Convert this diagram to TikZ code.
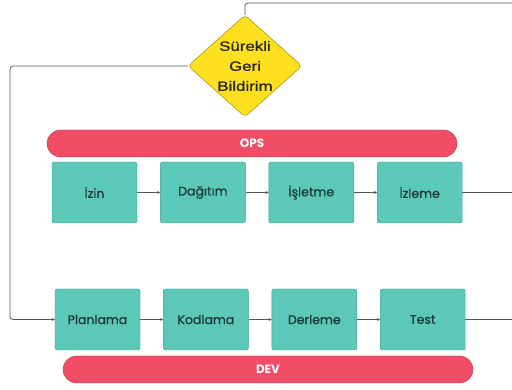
\documentclass[tikz,border=0pt]{standalone}
\usepackage{fontspec}
\setmainfont{Poppins}
\newfontfamily\stagefont[FakeBold=0.6]{Poppins}
\newfontfamily\diafont[FakeStretch=1.25,FakeBold=0.8]{Liberation Sans}
\usepackage{tikz}
\usetikzlibrary{arrows.meta}
\usetikzlibrary{positioning}
\usetikzlibrary{shapes.geometric}

\definecolor{tealbox}{HTML}{5BC8B8}
\definecolor{tealedge}{HTML}{3E9E90}
\definecolor{tealtext}{HTML}{1A3838}
\definecolor{barred}{HTML}{F24D66}
\definecolor{baredge}{HTML}{B8344A}
\definecolor{diayel}{HTML}{FFE01E}
\definecolor{diaedge}{HTML}{8C7A10}
\definecolor{wire}{HTML}{555555}

\begin{document}
\begin{tikzpicture}[
          x=1pt, y=1pt,
          >={Stealth[length=3pt,width=3pt]},
          every node/.style={font=\stagefont\fontsize{12.5}{14}\selectfont}
        ]

          % styles
          \tikzstyle{stage}=[rectangle, draw=tealedge, fill=tealbox, rounded corners=2pt,
                             minimum width=85pt, minimum height=61pt, text=tealtext, inner sep=0pt]
          \tikzstyle{band}=[rectangle, draw=baredge, fill=barred, rounded corners=13.5pt,
                            minimum width=410pt, minimum height=27pt, text=white,
                            font=\fontsize{12}{14}\selectfont\bfseries]
          \tikzstyle{feedback}=[diamond, draw=diaedge, fill=diayel, rounded corners=4pt, aspect=1.12,
                                minimum width=114pt, minimum height=102pt, inner sep=0pt, align=center,
                                text=black!85, font=\diafont\fontsize{13.5}{20}\selectfont]
          \tikzstyle{link}=[->, wire, line width=0.8pt]

          \useasboundingbox (0,0) rectangle (512,-390);

          % feedback
          \node[feedback] (fb) at (245,-66) {Sürekli\\Geri\\Bildirim};

          % ops
          \node[band] (ops) at (252,-143.5) {OPS};
          \node[stage] (izin) at (94.5,-192.5) {İzin};
          \node[stage, right=23pt of izin] (dagitim) {Dağıtım};
          \node[stage, right=23pt of dagitim] (isletme) {İşletme};
          \node[stage, right=23pt of isletme] (izleme) {İzleme};

          % dev
          \node[stage] (planlama) at (97.5,-319.5) {Planlama};
          \node[stage, right=23pt of planlama] (kodlama) {Kodlama};
          \node[stage, right=23pt of kodlama] (derleme) {Derleme};
          \node[stage, right=23pt of derleme] (test) {Test};
          \node[band] (dev) at (268,-369.5) {DEV};

          % loose ends at the right edge
          \coordinate (topend) at (512,-3);
          \coordinate (opsend) at (512,-192.5);
          \coordinate (devend) at (512,-319.5);

          % edges
          \draw[link] (izin) -- (dagitim);
          \draw[link] (dagitim) -- (isletme);
          \draw[link] (isletme) -- (izleme);
          \draw[link, -] (izleme) -- (opsend);

          \draw[link] (planlama) -- (kodlama);
          \draw[link] (kodlama) -- (derleme);
          \draw[link] (derleme) -- (test);
          \draw[link, -] (test) -- (devend);

          \draw[link, -, rounded corners=3pt] (fb.north) |- (topend);
          \draw[link, rounded corners=3pt] (fb.west) -| (10,-200) |- (planlama.west);

        \end{tikzpicture}
\end{document}
